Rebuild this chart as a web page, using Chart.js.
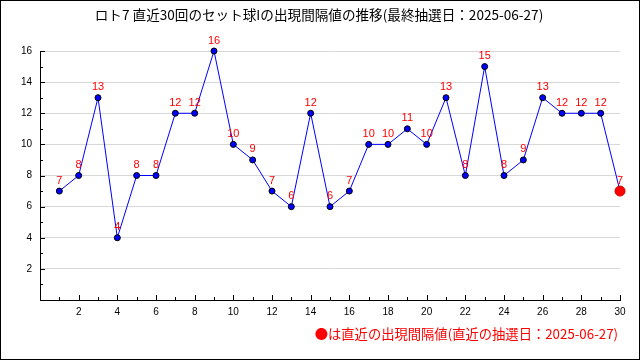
<!DOCTYPE html>
<html>
<head>
<meta charset="utf-8">
<script src="https://cdn.jsdelivr.net/npm/chart.js@4/dist/chart.umd.min.js"></script>
<style>
  html, body { margin: 0; padding: 0; background: #fff; }
  canvas { display: block; }
</style>
</head>
<body>
<canvas id="myChart" width="640" height="360"></canvas>
<script>
// 直近30回の出現間隔値
const rounds = [1, 2, 3, 4, 5, 6, 7, 8, 9, 10, 11, 12, 13, 14, 15, 16, 17, 18, 19, 20, 21, 22, 23, 24, 25, 26, 27, 28, 29, 30];
const intervals = [7, 8, 13, 4, 8, 8, 12, 12, 16, 10, 9, 7, 6, 12, 6, 7, 10, 10, 11, 10, 13, 8, 15, 8, 9, 13, 12, 12, 12, 7];
const xTickLabels = [2, 4, 6, 8, 10, 12, 14, 16, 18, 20, 22, 24, 26, 28, 30];
const yTickLabels = [2, 4, 6, 8, 10, 12, 14, 16];

const titleText = "ロト7 直近30回のセット球Iの出現間隔値の推移(最終抽選日：2025-06-27)";
const noteText = "●は直近の出現間隔値(直近の抽選日：2025-06-27)";

const jpFont = '"Noto Sans CJK JP", "DejaVu Sans", sans-serif';
const numFont = '"Liberation Sans", Arial, sans-serif';

const lastIndex = intervals.length - 1;

// white background + outer frame + title texts
const framePlugin = {
  id: "frame",
  beforeDraw(chart) {
    const ctx = chart.ctx;
    ctx.save();
    ctx.fillStyle = "#fff";
    ctx.fillRect(0, 0, chart.width, chart.height);
    ctx.restore();
  },
  afterDraw(chart) {
    const ctx = chart.ctx;
    ctx.save();
    ctx.strokeStyle = "#000";
    ctx.lineWidth = 1;
    ctx.strokeRect(0.5, 0.5, chart.width - 1, chart.height - 1);

    ctx.textBaseline = "middle";
    ctx.font = "13.6px " + jpFont;
    ctx.fillStyle = "#000";
    ctx.textAlign = "center";
    ctx.fillText(titleText, 319, 15);

    ctx.font = "13.3px " + jpFont;
    ctx.fillStyle = "#ff0000";
    ctx.textAlign = "right";
    ctx.fillText(noteText, 618, 334);
    ctx.restore();
  },
};

// short tick marks drawn inside the plot (major on even values)
const innerTicksPlugin = {
  id: "innerTicks",
  afterDatasetsDraw(chart) {
    const ctx = chart.ctx;
    const xs = chart.scales.x;
    const ys = chart.scales.y;
    const area = chart.chartArea;
    ctx.save();
    ctx.strokeStyle = "#000";
    ctx.lineWidth = 1;
    ctx.beginPath();
    for (let v = 1; v <= 30; v++) {
      const px = Math.round(xs.getPixelForValue(v)) + 0.5;
      const len = v % 2 === 0 ? 5 : 3;
      ctx.moveTo(px, area.bottom);
      ctx.lineTo(px, area.bottom - len);
    }
    for (let v = 1; v <= 16; v++) {
      const py = Math.round(ys.getPixelForValue(v)) + 0.5;
      const len = v % 2 === 0 ? 5 : 3;
      ctx.moveTo(area.left, py);
      ctx.lineTo(area.left + len, py);
    }
    ctx.stroke();
    ctx.restore();
  },
};

// red value labels above every point
const valueLabelPlugin = {
  id: "valueLabels",
  afterDatasetsDraw(chart) {
    const ctx = chart.ctx;
    const meta = chart.getDatasetMeta(0);
    ctx.save();
    ctx.font = "11px " + numFont;
    ctx.fillStyle = "#ff0000";
    ctx.textAlign = "center";
    ctx.textBaseline = "bottom";
    meta.data.forEach((pt, i) => {
      ctx.fillText(String(intervals[i]), pt.x, pt.y - 5);
    });
    ctx.restore();
  },
};

const chartCanvas = document.getElementById("myChart");

new Chart(chartCanvas, {
  type: "line",
  data: {
    datasets: [
      {
        label: "出現間隔",
        data: rounds.map((r, i) => ({ x: r, y: intervals[i] })),
        borderColor: "#0000ff",
        borderWidth: 1,
        tension: 0,
        clip: false,
        pointRadius: (c) => (c.dataIndex === lastIndex ? 5 : 3),
        pointBackgroundColor: (c) => (c.dataIndex === lastIndex ? "#ff0000" : "#0000ff"),
        pointBorderColor: (c) => (c.dataIndex === lastIndex ? "#cc0000" : "#000000"),
        pointBorderWidth: 1,
      },
    ],
  },
  options: {
    responsive: false,
    animation: false,
    devicePixelRatio: 1,
    layout: {
      padding: { top: 51, right: 20, bottom: 40, left: 0 },
    },
    plugins: {
      legend: { display: false },
      title: { display: false },
      tooltip: { enabled: false },
    },
    scales: {
      x: {
        type: "linear",
        min: 0,
        max: 30,
        afterFit: (scale) => { scale.height = 20; },
        afterBuildTicks: (scale) => {
          scale.ticks = xTickLabels.map((v) => ({ value: v }));
        },
        ticks: {
          autoSkip: false,
          maxRotation: 0,
          padding: 6,
          color: "#000",
          font: { size: 10, family: numFont },
        },
        grid: { drawOnChartArea: false, drawTicks: false },
        border: { display: true, color: "#000", width: 1 },
      },
      y: {
        min: 0,
        max: 16,
        afterFit: (scale) => { scale.width = 40; },
        afterBuildTicks: (scale) => {
          scale.ticks = yTickLabels.map((v) => ({ value: v }));
        },
        ticks: {
          autoSkip: false,
          padding: 8,
          color: "#000",
          font: { size: 10, family: numFont },
        },
        grid: { color: "#d8d8d8", lineWidth: 1, drawTicks: false },
        border: { display: true, color: "#000", width: 1 },
      },
    },
  },
  plugins: [framePlugin, innerTicksPlugin, valueLabelPlugin],
});
</script>
</body>
</html>
